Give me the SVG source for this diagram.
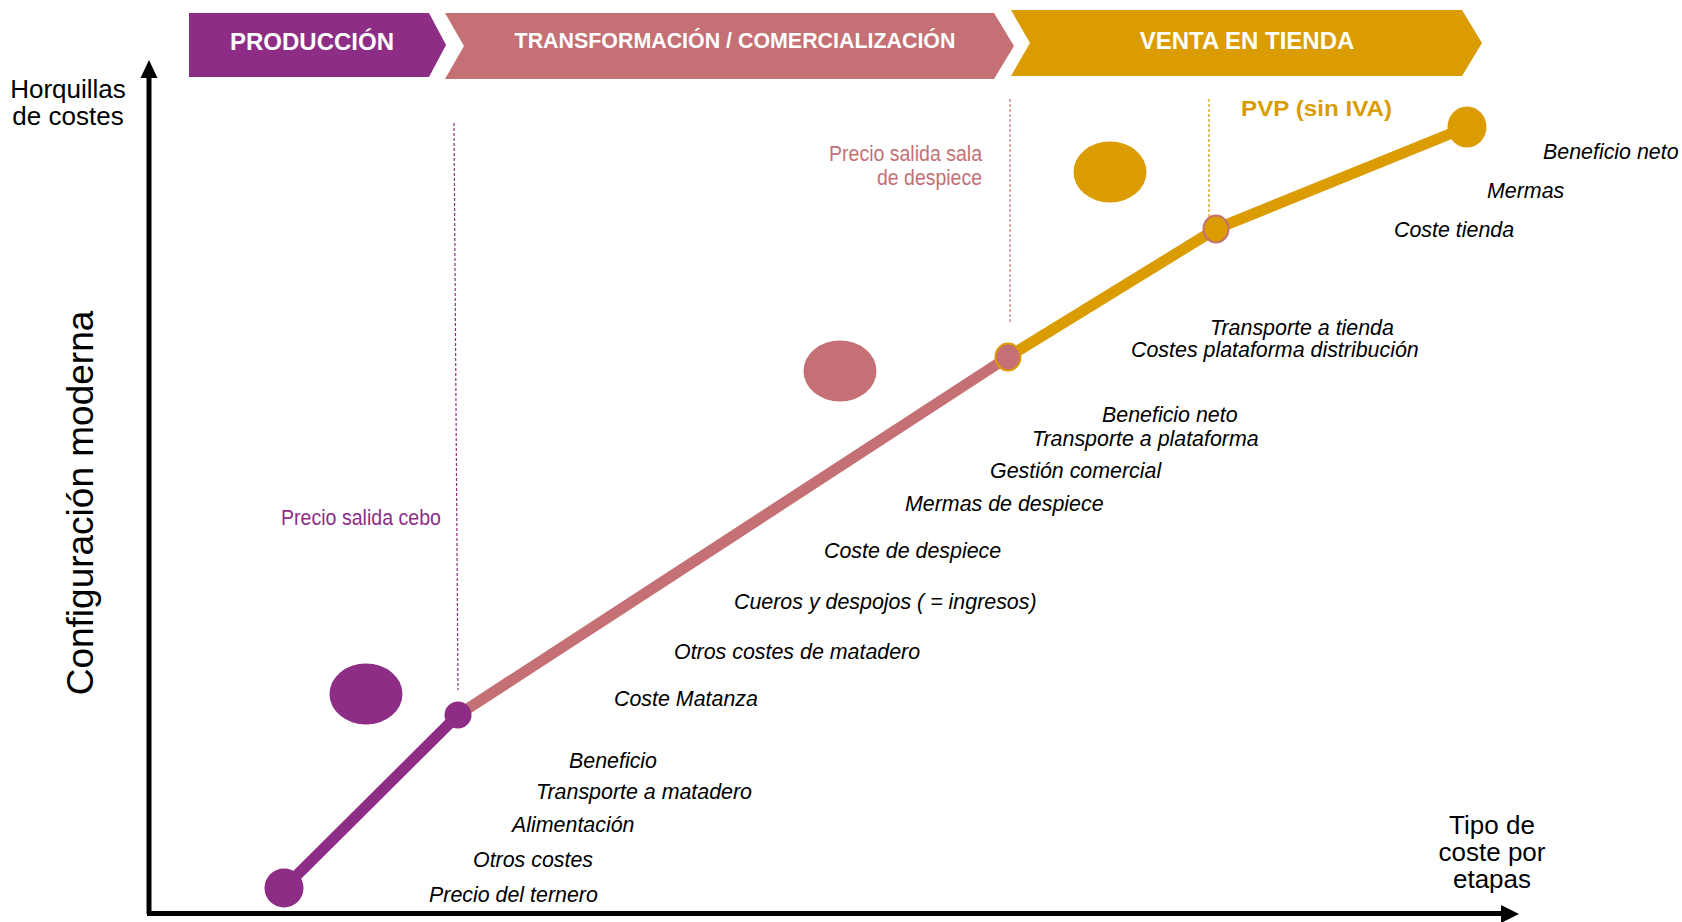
<svg xmlns="http://www.w3.org/2000/svg" width="1682" height="922" viewBox="0 0 1682 922">
<style>
.bt{font-family:"Liberation Sans",Arial,sans-serif;font-weight:bold;fill:#fff;text-anchor:middle}
.lb{font-family:"Liberation Sans",Arial,sans-serif;font-style:italic;font-size:21.4px;fill:#000}
.ax{font-family:"Liberation Sans",Arial,sans-serif;font-size:26px;fill:#000}
.nr{font-family:"Liberation Sans",Arial,sans-serif;font-size:22px}
.dash{stroke-width:1.2;stroke-dasharray:3 2;fill:none}
</style>
<rect width="1682" height="922" fill="#fff"/>
<g id="banner-produccion">
<polygon points="189,13 429,13 446,45 429,77 189,77" fill="#8E2D85"/>
<text class="bt" x="312" y="50" font-size="24">PRODUCCIÓN</text>
</g>
<g id="banner-transformacion">
<polygon points="445,13 994,13 1014,46 994,79 445,79 464,46" fill="#C47074"/>
<text class="bt" x="735" y="48" font-size="21.4">TRANSFORMACIÓN / COMERCIALIZACIÓN</text>
</g>
<g id="banner-venta">
<polygon points="1011,10 1462,10 1482,43 1462,76 1011,76 1030,43" fill="#DA9C00"/>
<text class="bt" x="1247" y="49" font-size="24">VENTA EN TIENDA</text>
</g>
<g id="axes">
<line x1="149" y1="914" x2="149" y2="76" stroke="#000" stroke-width="5"/>
<polygon points="149,60 140.5,78 157.5,78" fill="#000"/>
<line x1="147" y1="913.5" x2="1504" y2="913.5" stroke="#000" stroke-width="5"/>
<polygon points="1519,914 1501,905 1501,923" fill="#000"/>
<text class="ax" x="68" y="98" text-anchor="middle">Horquillas</text>
<text class="ax" x="68" y="125" text-anchor="middle">de costes</text>
<text class="ax" x="1492" y="834" text-anchor="middle">Tipo de</text>
<text class="ax" x="1492" y="861" text-anchor="middle">coste por</text>
<text class="ax" x="1492" y="888" text-anchor="middle">etapas</text>
<text class="ax" transform="translate(93,503) rotate(-90)" text-anchor="middle" style="font-size:37px">Configuración moderna</text>
</g>
<g id="connectors">
<line class="dash" x1="454" y1="123" x2="458" y2="690" stroke="#8E2D85"/>
<line class="dash" x1="1010" y1="99" x2="1010" y2="324" stroke="#C47074"/>
<line class="dash" x1="1209" y1="99" x2="1209" y2="221" stroke="#DA9C00"/>
<line x1="284" y1="888" x2="458" y2="715" stroke="#8E2D85" stroke-width="11"/>
<line x1="458" y1="715" x2="1008" y2="357" stroke="#C47074" stroke-width="11"/>
<polyline points="1008,357 1216,229 1467,127" fill="none" stroke="#DA9C00" stroke-width="11"/>
</g>
<g id="node-produccion">
<circle cx="284" cy="888" r="19.5" fill="#8E2D85"/>
<circle cx="458" cy="715" r="13.5" fill="#8E2D85"/>
<ellipse cx="366" cy="694" rx="36.5" ry="30.5" fill="#8E2D85"/>
<text class="nr" x="281" y="525" fill="#8E2D85" textLength="160" lengthAdjust="spacingAndGlyphs">Precio salida cebo</text>
</g>
<g id="node-transformacion">
<ellipse cx="840" cy="371" rx="36.5" ry="30.5" fill="#C47074"/>
<ellipse cx="1008" cy="357" rx="12.5" ry="13.5" fill="#C47074" stroke="#DA9C00" stroke-width="2"/>
<text class="nr" x="982" y="161" fill="#C47074" text-anchor="end" textLength="153" lengthAdjust="spacingAndGlyphs">Precio salida sala</text>
<text class="nr" x="982" y="185" fill="#C47074" text-anchor="end" textLength="105" lengthAdjust="spacingAndGlyphs">de despiece</text>
</g>
<g id="node-venta">
<ellipse cx="1110" cy="172" rx="36.5" ry="30.5" fill="#DA9C00"/>
<ellipse cx="1216" cy="229" rx="12.5" ry="13.5" fill="#DA9C00" stroke="#C47074" stroke-width="2"/>
<ellipse cx="1467" cy="127" rx="19.5" ry="20.5" fill="#DA9C00"/>
<text x="1241" y="116" font-family="Liberation Sans, Arial, sans-serif" font-weight="bold" font-size="22" fill="#DA9C00" textLength="151" lengthAdjust="spacingAndGlyphs">PVP (sin IVA)</text>
</g>
<g id="labels">
<text class="lb" x="1543" y="159">Beneficio neto</text>
<text class="lb" x="1487" y="198">Mermas</text>
<text class="lb" x="1394" y="237">Coste tienda</text>
<text class="lb" x="1210" y="335">Transporte a tienda</text>
<text class="lb" x="1131" y="357">Costes plataforma distribución</text>
<text class="lb" x="1102" y="422">Beneficio neto</text>
<text class="lb" x="1032" y="446">Transporte a plataforma</text>
<text class="lb" x="990" y="478">Gestión comercial</text>
<text class="lb" x="905" y="511">Mermas de despiece</text>
<text class="lb" x="824" y="558">Coste de despiece</text>
<text class="lb" x="734" y="609">Cueros y despojos ( = ingresos)</text>
<text class="lb" x="674" y="659">Otros costes de matadero</text>
<text class="lb" x="614" y="706">Coste Matanza</text>
<text class="lb" x="569" y="768">Beneficio</text>
<text class="lb" x="536" y="799">Transporte a matadero</text>
<text class="lb" x="512" y="832">Alimentación</text>
<text class="lb" x="473" y="867">Otros costes</text>
<text class="lb" x="429" y="902">Precio del ternero</text>
</g>
</svg>
